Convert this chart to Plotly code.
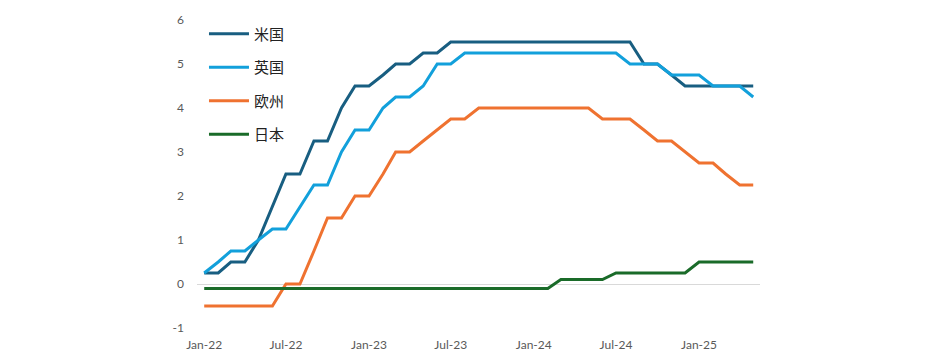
import plotly.graph_objects as go
import pandas as pd

months = pd.date_range("2022-01-01", "2025-05-01", freq="MS")

us = [0.25, 0.25, 0.5, 0.5, 1.0, 1.75, 2.5, 2.5, 3.25, 3.25, 4.0, 4.5,
      4.5, 4.75, 5.0, 5.0, 5.25, 5.25, 5.5, 5.5, 5.5, 5.5, 5.5, 5.5,
      5.5, 5.5, 5.5, 5.5, 5.5, 5.5, 5.5, 5.5, 5.0, 5.0, 4.75, 4.5,
      4.5, 4.5, 4.5, 4.5, 4.5]
uk = [0.25, 0.5, 0.75, 0.75, 1.0, 1.25, 1.25, 1.75, 2.25, 2.25, 3.0, 3.5,
      3.5, 4.0, 4.25, 4.25, 4.5, 5.0, 5.0, 5.25, 5.25, 5.25, 5.25, 5.25,
      5.25, 5.25, 5.25, 5.25, 5.25, 5.25, 5.25, 5.0, 5.0, 5.0, 4.75, 4.75,
      4.75, 4.5, 4.5, 4.5, 4.25]
eu = [-0.5, -0.5, -0.5, -0.5, -0.5, -0.5, 0.0, 0.0, 0.75, 1.5, 1.5, 2.0,
      2.0, 2.5, 3.0, 3.0, 3.25, 3.5, 3.75, 3.75, 4.0, 4.0, 4.0, 4.0,
      4.0, 4.0, 4.0, 4.0, 4.0, 3.75, 3.75, 3.75, 3.5, 3.25, 3.25, 3.0,
      2.75, 2.75, 2.5, 2.25, 2.25]
jp = [-0.1] * 26 + [0.1, 0.1, 0.1, 0.1, 0.25, 0.25, 0.25, 0.25, 0.25, 0.25,
      0.5, 0.5, 0.5, 0.5, 0.5]

names = ["米国", "英国", "欧州", "日本"]
series = [us, uk, eu, jp]
colors = ["#185e81", "#12a0db", "#ef7230", "#1a6b29"]

y_ticks = [-1, 0, 1, 2, 3, 4, 5, 6]
y_tick_labels = ["-1", "0", "1", "2", "3", "4", "5", "6"]

fig = go.Figure()
for i, (n, s, c) in enumerate(zip(names, series, colors)):
    fig.add_trace(go.Scatter(x=months, y=s, name=n, mode="lines",
                             line=dict(color=c, width=3),
                             legendgroup=f"g{i}"))

# page body has an 8px default margin, so the figure is sized to fit
fig.update_layout(
    width=923, height=356,
    margin=dict(l=189, r=171, t=12, b=36, autoexpand=False),
    paper_bgcolor="white", plot_bgcolor="white",
    font=dict(family="Lato, 'Noto Sans CJK JP'", color="#595959", size=12),
    showlegend=True,
    legend=dict(x=0.0124, y=1.008, xanchor="left", yanchor="top",
                font=dict(family="'Noto Sans CJK JP'", size=15, color="#222222"),
                tracegroupgap=11, bgcolor="rgba(0,0,0,0)",
                itemwidth=40),
)
fig.update_xaxes(
    range=["2021-12-16", "2025-05-16"], automargin=False,
    tickformat="%b-%y", dtick="M6", tick0="2022-01-01",
    showgrid=False, showline=False, zeroline=False,
    ticks="", ticklabelstandoff=8, tickfont=dict(size=12, color="#595959"),
)
fig.update_yaxes(
    range=[-1, 6], tickvals=y_ticks, ticktext=y_tick_labels,
    showgrid=False, showline=False, automargin=False,
    zeroline=True, zerolinecolor="#d9d9d9", zerolinewidth=1,
    ticks="", ticklabelstandoff=12, tickfont=dict(size=12, color="#595959"),
)

fig.write_html("out.html")
